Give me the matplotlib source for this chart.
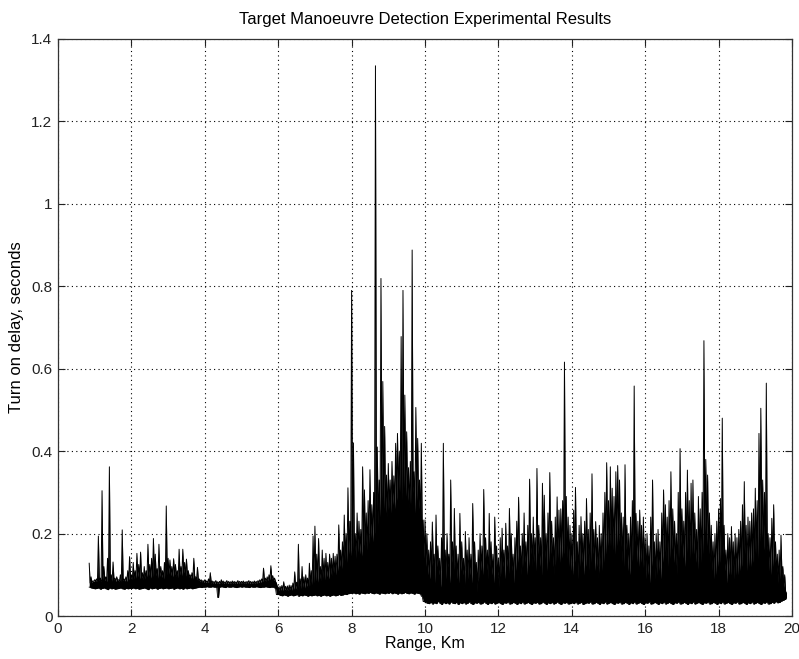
import numpy as np
import matplotlib
matplotlib.use("Agg")
import matplotlib.pyplot as plt

plt.rcParams["font.family"] = ["Liberation Sans", "DejaVu Sans"]

# turn-on delay in milliseconds, one peak / trough / floor value per 0.05 km
# range samples start at 0.85 km
RANGE_START, RANGE_STEP = 0.85, 0.05

near_peak = [128, 95, 85,
             88, 90, 194, 92, 304, 120, 95, 140, 362, 100, 131, 92, 95, 88, 100, 209, 90, 95, 110, 144,
             100, 130, 110, 152, 125, 155, 105, 120, 110, 174, 125, 140, 188, 150, 115, 174, 120, 110, 130, 267,
             140, 136, 120, 139, 125, 110, 162, 120, 162, 130, 138, 110, 100, 105, 140, 95, 118, 90, 88, 86,
             88, 85, 90, 105, 85, 84, 86, 83, 84, 88, 85, 83, 86, 84, 83, 85, 84, 83, 86, 84,
             84, 85, 83, 84, 86, 84, 83, 85, 84, 86, 88, 90, 116, 92, 95, 100, 122, 98, 92, 80]
near_trough = [80, 82, 84,
               85, 84, 86, 85, 88, 86, 84, 87, 86, 85, 88, 84, 86, 85, 84, 86, 85, 84, 88, 90,
               88, 90, 92, 95, 90, 92, 88, 90, 95, 98, 92, 95, 100, 98, 92, 96, 94, 90, 95, 100,
               102, 98, 95, 100, 97, 93, 100, 98, 105, 97, 100, 95, 92, 90, 94, 88, 86, 84, 83, 82,
               82, 81, 82, 80, 80, 79, 80, 79, 80, 80, 79, 80, 79, 80, 80, 79, 80, 79, 80, 80,
               80, 79, 80, 80, 79, 80, 80, 79, 80, 81, 82, 84, 86, 85, 86, 88, 90, 86, 84, 72]
near_floor = [70, 68, 67,
              66, 67, 68, 65, 67, 68, 66, 64, 68, 66, 67, 65, 66, 67, 68, 66, 65, 67, 66, 67,
              67, 68, 66, 67, 65, 66, 67, 68, 66, 64, 68, 66, 67, 68, 65, 67, 68, 66, 67, 68,
              66, 67, 68, 65, 67, 68, 66, 67, 65, 68, 66, 67, 68, 66, 67, 68, 69, 70, 69, 70,
              70, 71, 70, 70, 71, 70, 70, 45, 70, 71, 70, 69, 71, 70, 70, 71, 70, 69, 70, 71,
              70, 71, 70, 70, 69, 71, 70, 70, 71, 70, 69, 70, 70, 71, 70, 69, 70, 70, 68, 52]

mid_peak = [70, 72, 74, 83, 72, 73, 75, 74, 80, 107, 82, 174, 90, 120, 95, 100, 92, 128, 110, 194,
            218, 150, 188, 120, 160, 140, 152, 130, 150, 140, 152, 145, 150, 221, 160, 180, 245, 200, 311, 230,
            790, 420, 200, 250, 230, 210, 362, 306, 250, 280, 355, 270, 300, 1335, 410, 330, 819, 569, 460, 342,
            370, 330, 375, 340, 419, 443, 400, 678, 790, 536, 447, 360, 375, 888, 350, 506, 431, 330, 419, 233]
mid_trough = [62, 63, 62, 64, 63, 62, 64, 63, 65, 66, 65, 68, 67, 70, 68, 72, 70, 74, 76, 80,
              85, 82, 90, 86, 92, 88, 95, 90, 100, 98, 105, 100, 110, 120, 115, 125, 135, 130, 150, 145,
              160, 150, 140, 155, 150, 145, 170, 165, 160, 175, 190, 180, 200, 230, 220, 240, 280, 260, 250, 240,
              260, 250, 270, 260, 280, 290, 300, 280, 310, 290, 280, 260, 270, 300, 250, 280, 260, 220, 200, 140]
mid_floor = [52, 50, 49, 51, 50, 48, 50, 51, 49, 50, 52, 48, 50, 49, 51, 50, 48, 50, 49, 50,
             51, 49, 50, 48, 50, 51, 49, 50, 48, 50, 51, 49, 50, 52, 50, 51, 53, 52, 54, 55,
             55, 56, 54, 55, 53, 56, 55, 54, 56, 55, 57, 55, 54, 56, 55, 53, 56, 55, 54, 56,
             55, 57, 54, 56, 55, 53, 56, 54, 55, 57, 55, 54, 56, 55, 53, 56, 55, 54, 48, 35]

far_peak = [233, 200, 160, 180, 228, 150, 245, 170, 140, 190, 419, 160, 200, 150, 330, 180, 261, 170, 150, 249,
            180, 140, 205, 160, 190, 150, 273, 180, 130, 160, 200, 170, 307, 190, 160, 249, 180, 150, 240, 170,
            140, 190, 213, 160, 225, 170, 261, 200, 150, 190, 230, 288, 170, 200, 250, 180, 220, 332, 200, 240,
            190, 358, 220, 190, 322, 293, 200, 250, 348, 230, 190, 240, 289, 257, 260, 280, 616, 290, 240, 220,
            200, 257, 312, 180, 220, 241, 200, 230, 285, 210, 250, 345, 210, 229, 190, 220, 200, 250, 300, 372,
            280, 362, 310, 290, 350, 365, 330, 250, 240, 367, 220, 200, 240, 280, 558, 249, 230, 257, 220, 240,
            190, 200, 170, 240, 330, 180, 200, 210, 180, 250, 306, 270, 240, 280, 350, 260, 230, 200, 300, 406,
            260, 230, 300, 354, 280, 322, 330, 250, 210, 290, 260, 300, 668, 380, 342, 250, 220, 180, 200, 230,
            260, 285, 480, 220, 160, 200, 190, 217, 180, 200, 190, 210, 230, 270, 326, 220, 240, 230, 250, 260,
            310, 280, 443, 504, 330, 300, 565, 200, 190, 237, 270, 180, 150, 160, 196, 120, 100, 55]
far_trough = [120, 100, 90, 110, 130, 80, 120, 100, 70, 110, 140, 90, 120, 80, 130, 100, 120, 90, 80, 110,
              100, 70, 110, 90, 100, 80, 130, 100, 60, 90, 110, 100, 140, 110, 90, 120, 100, 80, 120, 90,
              70, 100, 120, 90, 120, 100, 140, 110, 80, 110, 130, 140, 100, 120, 130, 100, 120, 150, 120, 130,
              110, 150, 120, 100, 150, 140, 110, 130, 150, 120, 100, 130, 140, 130, 140, 150, 170, 140, 120, 110,
              100, 130, 140, 90, 120, 130, 100, 120, 140, 110, 130, 150, 110, 120, 90, 120, 110, 130, 150, 170,
              150, 170, 160, 150, 170, 180, 160, 130, 120, 160, 110, 100, 120, 140, 180, 130, 120, 130, 110, 120,
              90, 100, 80, 120, 140, 90, 100, 110, 90, 130, 150, 140, 120, 140, 160, 130, 120, 100, 140, 170,
              140, 120, 150, 160, 140, 150, 150, 130, 110, 140, 130, 150, 200, 170, 150, 130, 110, 90, 100, 120,
              130, 140, 150, 110, 80, 100, 100, 110, 90, 100, 100, 110, 120, 130, 150, 110, 120, 120, 130, 130,
              150, 140, 180, 190, 160, 150, 160, 110, 100, 120, 130, 100, 80, 90, 100, 70, 60, 45]
far_floor = [34, 31, 30, 33, 29, 32, 30, 35, 31, 28, 33, 30, 32, 29, 34, 31, 30, 33, 28, 32,
             30, 33, 29, 31, 34, 30, 28, 32, 31, 33, 29, 30, 34, 31, 28, 32, 30, 33, 29, 31,
             33, 30, 28, 32, 31, 34, 29, 30, 33, 31, 28, 32, 30, 34, 29, 31, 33, 30, 28, 32,
             31, 33, 29, 30, 34, 31, 28, 32, 30, 33, 29, 31, 34, 30, 28, 32, 31, 33, 29, 30,
             32, 30, 34, 29, 31, 33, 28, 30, 32, 31, 34, 29, 30, 33, 31, 28, 32, 30, 34, 29,
             31, 33, 30, 28, 32, 31, 34, 29, 30, 33, 31, 28, 32, 30, 34, 29, 31, 33, 30, 28,
             32, 31, 34, 29, 30, 33, 31, 28, 32, 30, 34, 29, 31, 33, 30, 28, 32, 31, 34, 29,
             30, 33, 31, 28, 32, 30, 34, 29, 31, 33, 30, 28, 32, 31, 34, 29, 30, 33, 31, 28,
             32, 30, 34, 29, 31, 33, 30, 28, 32, 31, 34, 29, 30, 33, 31, 28, 32, 30, 34, 29,
             31, 33, 30, 28, 32, 31, 34, 29, 30, 33, 31, 35, 32, 33, 36, 38, 40, 45]

peak = np.array(near_peak + mid_peak + far_peak) / 1000.0
trough = np.array(near_trough + mid_trough + far_trough) / 1000.0
floor = np.array(near_floor + mid_floor + far_floor) / 1000.0

# peaks and troughs alternate along the trace, half a sample apart
n = len(peak)
trace = np.empty(2 * n - 1)
trace[0::2] = peak
trace[1::2] = trough[:n - 1]
rng_km = RANGE_START + np.arange(2 * n - 1) * RANGE_STEP / 2
base = np.repeat(floor, 2)[:2 * n - 1]

fig = plt.figure(figsize=(7.99, 6.59), dpi=100)
ax = fig.add_axes([58 / 799, 1 - 616 / 659, (792 - 58) / 799, (616 - 39) / 659])

ax.fill_between(rng_km, base, trace, color="black", lw=0, zorder=3)
ax.plot(rng_km, trace, color="black", lw=0.7, zorder=3)
ax.plot(rng_km, base, color="black", lw=0.6, zorder=3)

ax.set_xlim(0, 20)
ax.set_ylim(0, 1.4)
ax.set_xticks(np.arange(0, 21, 2))
ax.set_yticks(np.arange(0, 1.41, 0.2))
ax.set_yticklabels(["0", "0.2", "0.4", "0.6", "0.8", "1", "1.2", "1.4"])
ax.grid(True, color="black", linestyle=(0, (1, 3)), lw=0.8)
ax.set_axisbelow(True)
ax.tick_params(direction="in", top=True, right=True, length=5, width=0.8,
               labelsize=11, pad=4, colors="#222222")
for s in ax.spines.values():
    s.set_linewidth(0.9)
    s.set_color("#333333")

ax.set_title("Target Manoeuvre Detection Experimental Results", fontsize=12, pad=11)
ax.set_xlabel("Range, Km", fontsize=11.5, labelpad=0)
ax.set_ylabel("Turn on delay, seconds", fontsize=12, labelpad=5)

fig.savefig("out.png", dpi=100)
